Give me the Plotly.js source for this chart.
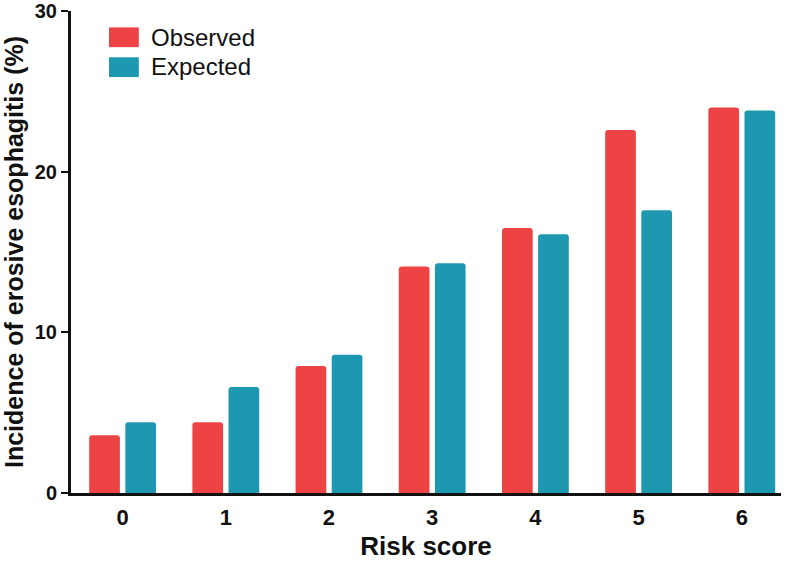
<!DOCTYPE html>
<html>
<head>
<meta charset="utf-8">
<script src="https://cdn.plot.ly/plotly-3.0.1.min.js"></script>
<style>
  html, body { margin: 0; padding: 0; background: #fff; }
  #chart { width: 800px; height: 561px; }
</style>
</head>
<body>
<div id="chart"></div>
<script>
// risk score categories
var riskScores = ['0', '1', '2', '3', '4', '5', '6'];
// incidence of erosive esophagitis (%)
var observed = [3.6, 4.4, 7.9, 14.1, 16.5, 22.6, 24.0];
var expected = [4.4, 6.6, 8.6, 14.3, 16.1, 17.6, 23.8];

var red = 'rgb(238, 67, 68)';
var teal = 'rgb(30, 152, 176)';

var trace1 = {
  x: riskScores,
  y: observed,
  type: 'bar',
  name: 'Observed',
  marker: {color: red, cornerradius: 3},
  hoverinfo: 'y'
};
var trace2 = {
  x: riskScores,
  y: expected,
  type: 'bar',
  name: 'Expected',
  marker: {color: teal, cornerradius: 3},
  hoverinfo: 'y'
};

var fontFam = 'Liberation Sans, Arial, sans-serif';

var layout = {
  width: 800,
  height: 561,
  margin: {l: 71, r: 19, t: 11, b: 68},
  barmode: 'group',
  bargap: 0.3,
  bargroupgap: 0.15,
  showlegend: false,
  paper_bgcolor: '#fff',
  plot_bgcolor: '#fff',
  font: {family: fontFam, color: '#111'},
  xaxis: {
    type: 'category',
    range: [-0.5, 6.38],
    showline: true,
    linecolor: '#111',
    linewidth: 3,
    ticks: '',
    showgrid: false,
    zeroline: false,
    ticklabelstandoff: 3,
    tickfont: {size: 22, family: fontFam, weight: 'bold'},
    title: {text: 'Risk score', font: {size: 26, weight: 'bold'}, standoff: 16}
  },
  yaxis: {
    range: [0, 30],
    tickvals: [0, 10, 20, 30],
    showline: true,
    linecolor: '#111',
    linewidth: 3,
    ticks: 'outside',
    ticklen: 7,
    tickwidth: 2,
    tickcolor: '#111',
    showgrid: false,
    zeroline: false,
    tickfont: {size: 20, family: fontFam, weight: 'bold'},
    title: {text: 'Incidence of erosive esophagitis (%)', font: {size: 25, weight: 'bold'}, standoff: 8}
  },
  // legend swatches and labels drawn as paper shapes/annotations
  shapes: [
    {type: 'rect', xref: 'paper', yref: 'paper', x0: 0.0535, x1: 0.0955, y0: 0.925, y1: 0.966,
     fillcolor: red, line: {width: 0}},
    {type: 'rect', xref: 'paper', yref: 'paper', x0: 0.0535, x1: 0.0955, y0: 0.863, y1: 0.904,
     fillcolor: teal, line: {width: 0}}
  ],
  annotations: [
    {text: 'Observed', xref: 'paper', yref: 'paper', x: 0.11, y: 0.946, xanchor: 'left', yanchor: 'middle',
     showarrow: false, font: {size: 24, color: '#111'}},
    {text: 'Expected', xref: 'paper', yref: 'paper', x: 0.11, y: 0.884, xanchor: 'left', yanchor: 'middle',
     showarrow: false, font: {size: 24, color: '#111'}}
  ]
};

Plotly.newPlot('chart', [trace1, trace2], layout, {displayModeBar: false, staticPlot: true});
</script>
</body>
</html>
